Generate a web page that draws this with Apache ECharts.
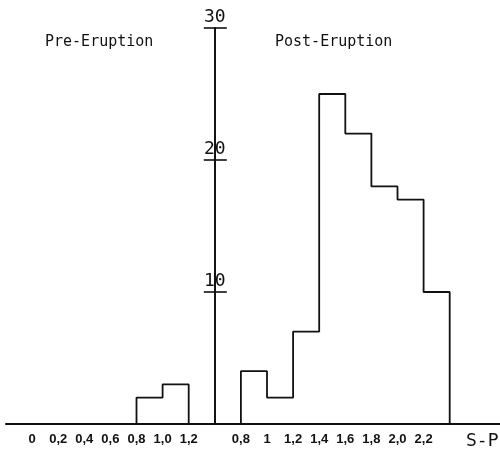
<!DOCTYPE html>
<html>
<head>
<meta charset="utf-8">
<script src="https://cdn.jsdelivr.net/npm/echarts@6/dist/echarts.min.js"></script>
<style>
  html, body { margin: 0; padding: 0; background: #ffffff; }
  #chart { width: 500px; height: 452px; }
</style>
</head>
<body>
<div id="chart"></div>
<script>
// S-P histogram, before and after the eruption (counts per 0.2 bin)
const binWidth = 0.2;

const preBinStarts = [0.8, 1.0];
const preCounts = [2, 3];
const preTickValues = [0, 0.2, 0.4, 0.6, 0.8, 1.0, 1.2];
const preTickText = ['0', '0,2', '0,4', '0,6', '0,8', '1,0', '1,2'];

const postBinStarts = [0.8, 1.0, 1.2, 1.4, 1.6, 1.8, 2.0, 2.2];
const postCounts = [4, 2, 7, 25, 22, 18, 17, 10];
const postTickValues = [0.8, 1.0, 1.2, 1.4, 1.6, 1.8, 2.0, 2.2];
const postTickText = ['0,8', '1', '1,2', '1,4', '1,6', '1,8', '2,0', '2,2'];

const countTicks = [10, 20, 30];

const ink = '#111111';
const mono = '"DejaVu Sans Mono", monospace';
const labelFont = '"Liberation Sans", Arial, sans-serif';

// Outline of a histogram as step points (no inner bin walls).
function outline(starts, counts) {
  const pts = [[starts[0], 0]];
  for (let i = 0; i < starts.length; i++) {
    pts.push([starts[i], counts[i]]);
  }
  const end = starts[starts.length - 1] + binWidth;
  pts.push([end, counts[counts.length - 1]]);
  pts.push([end, 0]);
  return pts;
}

function tickFormatter(values, texts) {
  return (v) => {
    const i = values.findIndex((t) => Math.abs(t - v) < 1e-6);
    return i >= 0 ? texts[i] : '';
  };
}

const chart = echarts.init(document.getElementById('chart'), null, { renderer: 'canvas' });

const xCommon = {
  type: 'value',
  splitLine: { show: false },
  axisLine: { show: true, onZero: false, lineStyle: { color: ink, width: 2 } },
  axisTick: { show: false }
};
const xLabelStyle = {
  margin: 9,
  fontFamily: labelFont,
  fontSize: 13,
  fontWeight: 'bold',
  color: ink
};
const yCommon = {
  type: 'value',
  min: 0,
  max: 30,
  interval: 10,
  splitLine: { show: false },
  axisLine: { show: true, onZero: false, lineStyle: { color: ink, width: 1.8 } }
};

chart.setOption({
  backgroundColor: '#ffffff',
  animation: false,
  title: [
    { text: 'Pre-Eruption', left: 45, top: 35, padding: 0,
      textStyle: { fontFamily: mono, fontSize: 15, fontWeight: 'normal', color: ink } },
    { text: 'Post-Eruption', left: 275, top: 35, padding: 0,
      textStyle: { fontFamily: mono, fontSize: 15, fontWeight: 'normal', color: ink } },
    { text: 'S-P', left: 466, top: 432, padding: 0,
      textStyle: { fontFamily: mono, fontSize: 18, fontWeight: 'normal', color: ink } }
  ],
  // Left panel: pre-eruption; right panel: post-eruption. They meet on the count axis.
  grid: [
    { left: 6, width: 208.8, top: 28, bottom: 28, containLabel: false, outerBoundsMode: 'none' },
    { left: 214.8, width: 287.1, top: 28, bottom: 28, containLabel: false, outerBoundsMode: 'none' }
  ],
  xAxis: [
    Object.assign({}, xCommon, {
      gridIndex: 0, min: -0.2, max: 1.4,
      axisLabel: Object.assign({}, xLabelStyle, {
        customValues: preTickValues,
        formatter: tickFormatter(preTickValues, preTickText)
      })
    }),
    Object.assign({}, xCommon, {
      gridIndex: 1, min: 0.6, max: 2.8,
      axisLabel: Object.assign({}, xLabelStyle, {
        customValues: postTickValues,
        formatter: tickFormatter(postTickValues, postTickText)
      })
    })
  ],
  yAxis: [
    Object.assign({}, yCommon, {
      gridIndex: 0,
      position: 'right',
      axisTick: { show: true, customValues: countTicks, length: 11, inside: true,
        lineStyle: { color: ink, width: 1.6 } },
      axisLabel: {
        show: true,
        customValues: countTicks,
        margin: 0,
        align: 'center',
        verticalAlign: 'bottom',
        padding: [0, 0, 2, 0],
        fontFamily: mono,
        fontSize: 18,
        color: ink
      }
    }),
    Object.assign({}, yCommon, {
      gridIndex: 1,
      position: 'left',
      axisTick: { show: true, customValues: countTicks, length: 12, inside: true,
        lineStyle: { color: ink, width: 1.6 } },
      axisLabel: { show: false }
    })
  ],
  series: [
    {
      name: 'Pre-Eruption',
      type: 'line',
      xAxisIndex: 0,
      yAxisIndex: 0,
      step: 'end',
      symbol: 'none',
      silent: true,
      lineStyle: { color: ink, width: 1.8 },
      data: outline(preBinStarts, preCounts)
    },
    {
      name: 'Post-Eruption',
      type: 'line',
      xAxisIndex: 1,
      yAxisIndex: 1,
      step: 'end',
      symbol: 'none',
      silent: true,
      lineStyle: { color: ink, width: 1.8 },
      data: outline(postBinStarts, postCounts)
    }
  ]
});
</script>
</body>
</html>
